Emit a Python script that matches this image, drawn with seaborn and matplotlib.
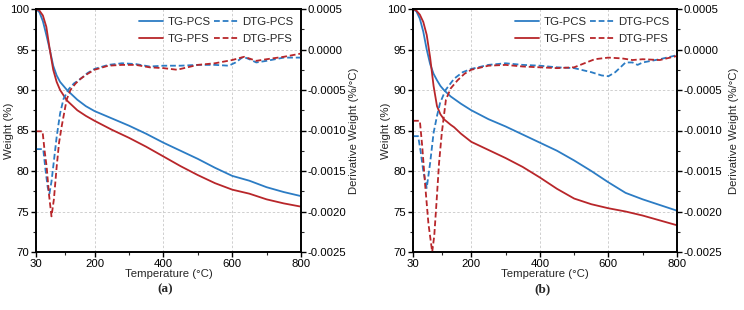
import numpy as np
import pandas as pd
import seaborn as sns
import matplotlib.pyplot as plt
from matplotlib.ticker import MultipleLocator, FixedLocator, FormatStrFormatter

# ---- panel (a) ----
t_tg_a = [30, 40, 50, 60, 70, 80, 90, 100, 120, 150, 175, 200, 250, 300, 350,
          400, 450, 500, 550, 600, 650, 700, 750, 800]
tg_pcs_a = [100, 99.6, 98.5, 96.8, 95.0, 93.0, 91.8, 91.0, 90.0, 88.8, 88.0, 87.4,
            86.5, 85.6, 84.6, 83.5, 82.5, 81.5, 80.4, 79.4, 78.8, 78.0, 77.4, 76.9]
tg_pfs_a = [100, 99.8, 99.2, 97.8, 95.0, 92.5, 91.0, 90.0, 88.7, 87.5, 86.8, 86.2,
            85.1, 84.1, 83.0, 81.8, 80.6, 79.5, 78.5, 77.7, 77.2, 76.5, 76.0, 75.6]

t_dtg_pcs_a = [30, 51, 58, 64, 69, 75, 80, 90, 100, 110, 125, 140, 160, 180, 200,
               240, 280, 320, 360, 400, 450, 500, 550, 590, 610, 632, 650, 670,
               700, 750, 800]
dtg_pcs_a = [-0.00123, -0.00123, -0.00150, -0.00170, -0.00178, -0.00163, -0.00145,
             -0.00108, -0.00079, -0.00061, -0.00049, -0.00042, -0.00036, -0.00029,
             -0.00024, -0.00019, -0.00017, -0.00018, -0.00021, -0.00020, -0.00020,
             -0.00019, -0.00019, -0.00020, -0.00016, -0.00009, -0.00012, -0.00016,
             -0.00014, -0.00010, -0.00010]
t_dtg_pfs_a = [30, 49, 55, 61, 68, 75, 82, 90, 97, 105, 119, 130, 145, 160, 180,
               200, 240, 280, 320, 360, 400, 440, 470, 500, 550, 600, 635, 670,
               700, 750, 800]
dtg_pfs_a = [-0.00101, -0.00101, -0.00125, -0.00145, -0.00180, -0.00206, -0.00185,
             -0.00145, -0.00115, -0.00094, -0.00062, -0.00050, -0.00042, -0.00036,
             -0.00030, -0.00025, -0.00020, -0.00019, -0.00019, -0.00022, -0.00023,
             -0.00025, -0.00022, -0.00019, -0.00017, -0.00013, -0.00009, -0.00014,
             -0.00012, -0.00009, -0.00005]

# ---- panel (b) ----
t_tg_b = [30, 40, 50, 60, 70, 80, 90, 100, 110, 120, 140, 150, 170, 200, 250, 300,
          350, 400, 450, 500, 550, 600, 650, 700, 750, 800]
tg_pcs_b = [100, 99.7, 98.8, 97.2, 95.0, 93.2, 92.0, 91.2, 90.5, 90.0, 89.2, 88.9,
            88.3, 87.5, 86.4, 85.5, 84.5, 83.5, 82.5, 81.3, 80.0, 78.6, 77.3, 76.5,
            75.8, 75.1]
tg_pfs_b = [100, 99.8, 99.3, 98.4, 96.8, 94.0, 90.5, 88.0, 87.0, 86.4, 85.7, 85.4,
            84.6, 83.6, 82.6, 81.6, 80.5, 79.2, 77.8, 76.6, 75.9, 75.4, 75.0, 74.5,
            73.9, 73.3]

t_dtg_pcs_b = [30, 45, 52, 60, 70, 80, 90, 100, 109, 125, 150, 175, 200, 250, 300,
               350, 400, 450, 500, 550, 580, 600, 620, 650, 670, 685, 700, 750, 800]
dtg_pcs_b = [-0.00107, -0.00107, -0.00125, -0.00150, -0.00171, -0.00140, -0.00103,
             -0.00082, -0.00066, -0.00050, -0.00036, -0.00028, -0.00024, -0.00019,
             -0.00017, -0.00019, -0.00020, -0.00022, -0.00023, -0.00028, -0.00032,
             -0.00033, -0.00028, -0.00016, -0.00016, -0.00019, -0.00016, -0.00012,
             -0.00007]
t_dtg_pfs_b = [30, 50, 57, 65, 75, 86, 92, 99, 106, 114, 126, 140, 160, 180, 200,
               250, 300, 350, 400, 450, 500, 530, 560, 600, 640, 670, 700, 750, 800]
dtg_pfs_b = [-0.00088, -0.00088, -0.00120, -0.00165, -0.00215, -0.00250, -0.00230,
             -0.00186, -0.00140, -0.00103, -0.00062, -0.00048, -0.00038, -0.00030,
             -0.00025, -0.00020, -0.00019, -0.00021, -0.00022, -0.00023, -0.00022,
             -0.00017, -0.00012, -0.00010, -0.00011, -0.00013, -0.00012, -0.00013,
             -0.00008]

panel_labels = ["(a)", "(b)"]
x_ticks = [30, 200, 400, 600, 800]

BLUE = "#2c7cc4"
RED = "#b8262a"
FS = 8.2

sns.set_style("ticks")
plt.rcParams["font.family"] = ["Liberation Sans", "DejaVu Sans"]
plt.rcParams["font.size"] = FS
plt.rcParams["axes.linewidth"] = 1.2

fig = plt.figure(figsize=(7.44, 3.10), dpi=100)
positions = [[36 / 744, 58 / 310, 265 / 744, 243 / 310],
             [413 / 744, 58 / 310, 264 / 744, 243 / 310]]
ylabel_x = [(-0.084, 1.180), (-0.084, 1.198)]

panels = [
    (t_tg_a, tg_pcs_a, tg_pfs_a, t_dtg_pcs_a, dtg_pcs_a, t_dtg_pfs_a, dtg_pfs_a),
    (t_tg_b, tg_pcs_b, tg_pfs_b, t_dtg_pcs_b, dtg_pcs_b, t_dtg_pfs_b, dtg_pfs_b),
]

dash = (0, (3.2, 1.6))
for i, (t_tg, tg_pcs, tg_pfs, t_pcs, d_pcs, t_pfs, d_pfs) in enumerate(panels):
    ax = fig.add_axes(positions[i])
    ax2 = ax.twinx()

    sns.lineplot(x=t_tg, y=tg_pcs, ax=ax, color=BLUE, lw=1.3, label="TG-PCS", legend=False)
    sns.lineplot(x=t_tg, y=tg_pfs, ax=ax, color=RED, lw=1.3, label="TG-PFS", legend=False)
    sns.lineplot(x=t_pcs, y=d_pcs, ax=ax2, color=BLUE, lw=1.3, linestyle=dash,
                 label="DTG-PCS", legend=False)
    sns.lineplot(x=t_pfs, y=d_pfs, ax=ax2, color=RED, lw=1.3, linestyle=dash,
                 label="DTG-PFS", legend=False)

    ax.set_xlim(30, 800)
    ax.set_ylim(70, 100)
    ax2.set_ylim(-0.0025, 0.0005)
    ax.xaxis.set_major_locator(FixedLocator(x_ticks))
    ax.xaxis.set_minor_locator(FixedLocator([115, 300, 500, 700]))
    ax.yaxis.set_major_locator(MultipleLocator(5))
    ax.yaxis.set_minor_locator(MultipleLocator(2.5))
    ax2.yaxis.set_major_locator(MultipleLocator(0.0005))
    ax2.yaxis.set_minor_locator(MultipleLocator(0.00025))
    ax2.yaxis.set_major_formatter(FormatStrFormatter("%.4f"))

    for a in (ax, ax2):
        a.tick_params(which="major", direction="out", length=3.5, width=1.0, pad=1.2,
                      labelsize=FS, colors="black")
        a.tick_params(which="minor", direction="out", length=2, width=0.8)
        for s in a.spines.values():
            s.set_visible(True)
            s.set_linewidth(1.2)
            s.set_color("black")

    ax.grid(True, which="major", color="#cfcfcf", linestyle=(0, (2.5, 2)), lw=0.7)
    ax.set_axisbelow(True)

    ax.set_xlabel("Temperature (°C)", labelpad=0)
    ax.set_ylabel("Weight (%)")
    ax2.set_ylabel("Derivative Weight (%/°C)")
    ax.yaxis.set_label_coords(ylabel_x[i][0], 0.5)
    ax2.yaxis.set_label_coords(ylabel_x[i][1], 0.5)

    h1, l1 = ax.get_legend_handles_labels()
    h2, l2 = ax2.get_legend_handles_labels()
    ax2.legend(h1 + h2, l1 + l2, ncol=2, loc="upper right", frameon=False,
               fontsize=FS, handlelength=2.1, handletextpad=0.35, columnspacing=0.3,
               labelspacing=0.6, borderaxespad=0.3, bbox_to_anchor=(1.0, 1.0))

    x0, y0, w, h = positions[i]
    fig.text(x0 + w / 2 - 0.004, 0.066, panel_labels[i], ha="center", va="center",
             family=["Liberation Serif", "DejaVu Serif"], fontweight="bold", fontsize=9.5)

fig.savefig("out.png", dpi=100)
